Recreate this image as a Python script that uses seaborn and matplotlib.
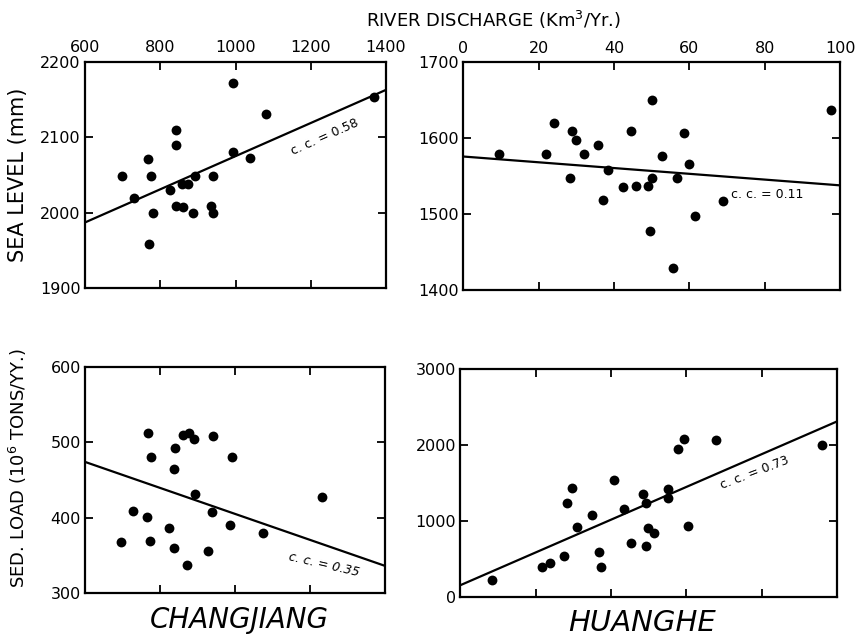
import matplotlib
matplotlib.use("Agg")
import matplotlib.pyplot as plt
import seaborn as sns
import numpy as np

# ---------------- data ----------------
# Changjiang: discharge (km3/yr) vs sea level (mm)
cj_sl_x = [697, 731, 768, 775, 781, 770, 826, 842, 842, 841, 861, 858, 873, 888,
           893, 934, 941, 941, 993, 992, 1039, 1080, 1368]
cj_sl_y = [2049, 2020, 2071, 2048, 2000, 1959, 2030, 2110, 2090, 2009, 2008, 2038,
           2038, 2000, 2049, 2009, 2049, 2000, 2172, 2080, 2072, 2131, 2153]
cj_sl_fit_x = [600, 1400]
cj_sl_fit_y = [1987, 2163]

# Huanghe: discharge vs sea level
hh_sl_x = [9.4, 22, 24, 28.7, 30, 28.4, 32, 35.6, 38.3, 37, 42.3, 44.6, 45.8, 49,
           50, 50, 49.4, 52.6, 55.6, 56.6, 58.6, 60, 61.4, 68.8, 97.7]
hh_sl_y = [1579, 1579, 1620, 1610, 1598, 1548, 1579, 1591, 1558, 1519, 1536, 1610,
           1537, 1537, 1548, 1651, 1478, 1577, 1429, 1548, 1607, 1566, 1497, 1517, 1637]
hh_sl_fit_x = [0, 100]
hh_sl_fit_y = [1576, 1538]

# Changjiang: discharge vs sediment load (10^6 tons/yr)
cj_sd_x = [767, 775, 841, 837, 861, 876, 890, 942, 993, 892, 938, 729, 765, 823,
           696, 772, 836, 871, 929, 986, 1075, 1233]
cj_sd_y = [512, 480, 492, 464, 510, 513, 504, 508, 480, 431, 407, 409, 401, 386,
           368, 369, 360, 337, 356, 390, 380, 428]
cj_sd_fit_x = [600, 1400]
cj_sd_fit_y = [474, 336]

# Huanghe: discharge vs sediment load
hh_sd_x = [8.5, 21.6, 23.7, 27.6, 28.4, 29.5, 31, 34.8, 36.8, 37.4, 40.8, 43.3,
           45.4, 48.5, 49.3, 49.3, 49.8, 51.4, 55.2, 55, 57.7, 59.3, 60.4, 67.9, 96.1]
hh_sd_y = [218, 396, 453, 542, 1236, 1431, 920, 1076, 587, 396, 1543, 1156, 711,
           1360, 1231, 671, 903, 836, 1427, 1307, 1947, 2080, 929, 2067, 2004]
hh_sd_fit_x = [0, 100]
hh_sd_fit_y = [156, 2310]

cc_labels = ["c. c. = 0.58", "c. c. = 0.11", "c. c. = 0.35", "c. c. = 0.73"]

cj_xticks = [600, 800, 1000, 1200, 1400]
hh_xticks = [0, 20, 40, 60, 80, 100]
cj_sl_yticks = [1900, 2000, 2100, 2200]
hh_sl_yticks = [1400, 1500, 1600, 1700]
cj_sd_yticks = [300, 400, 500, 600]
hh_sd_yticks = [0, 1000, 2000, 3000]

# ---------------- style ----------------
sns.set_style("ticks")
plt.rcParams["font.family"] = ["DejaVu Sans"]
plt.rcParams["text.color"] = "black"
plt.rcParams["axes.labelcolor"] = "black"
plt.rcParams["xtick.color"] = "black"
plt.rcParams["ytick.color"] = "black"

fig = plt.figure(figsize=(8.58, 6.37), dpi=100)

rects = [
    [0.0991, 0.5479, 0.3508, 0.3548],
    [0.5402, 0.5447, 0.4390, 0.3572],
    [0.0991, 0.0691, 0.3496, 0.3548],
    [0.5367, 0.0628, 0.4388, 0.3579],
]
axes = [fig.add_axes(r) for r in rects]

panels = [
    (cj_sl_x, cj_sl_y, cj_sl_fit_x, cj_sl_fit_y, cj_xticks, cj_sl_yticks, True),
    (hh_sl_x, hh_sl_y, hh_sl_fit_x, hh_sl_fit_y, hh_xticks, hh_sl_yticks, True),
    (cj_sd_x, cj_sd_y, cj_sd_fit_x, cj_sd_fit_y, cj_xticks, cj_sd_yticks, False),
    (hh_sd_x, hh_sd_y, hh_sd_fit_x, hh_sd_fit_y, hh_xticks, hh_sd_yticks, False),
]

for ax, (x, y, fx, fy, xt, yt, top) in zip(axes, panels):
    sns.scatterplot(x=x, y=y, ax=ax, color="black", s=50, edgecolor="black",
                    linewidth=0, zorder=3)
    sns.lineplot(x=fx, y=fy, ax=ax, color="black", linewidth=1.6, zorder=2)
    ax.set_xlim(xt[0], xt[-1])
    ax.set_ylim(yt[0], yt[-1])
    ax.set_xticks(xt)
    ax.set_yticks(yt)
    for sp in ax.spines.values():
        sp.set_visible(True)
        sp.set_linewidth(1.6)
        sp.set_color("black")
    ax.tick_params(axis="both", direction="in", length=6, width=1.3,
                   top=True, bottom=True, left=True, right=True,
                   labelsize=11.5, colors="black")
    ax.tick_params(axis="y", pad=3)
    ax.tick_params(axis="x", pad=5, labeltop=top, labelbottom=False)
    ax.set_xlabel("")
    ax.set_ylabel("")

# correlation annotations
axes[0].text(1238, 2101, cc_labels[0], rotation=24, ha="center", va="center",
             rotation_mode="anchor", fontsize=9)
axes[1].text(80.5, 1526, cc_labels[1], rotation=0, ha="center", va="center",
             fontsize=9)
axes[2].text(1238, 338, cc_labels[2], rotation=-13, ha="center", va="center",
             rotation_mode="anchor", fontsize=9, style="italic")
axes[3].text(78, 1630, cc_labels[3], rotation=21, ha="center", va="center",
             rotation_mode="anchor", fontsize=9)

# axis titles
fig.text(0.5746, 0.9686, "RIVER DISCHARGE (Km$^{3}$/Yr.)", ha="center",
         va="center", fontsize=13)
fig.text(0.021, 0.725, "SEA LEVEL (mm)", rotation=90, ha="center",
         va="center", fontsize=15)
fig.text(0.021, 0.265, "SED. LOAD (10$^{6}$ TONS/YY.)", rotation=90,
         ha="center", va="center", fontsize=13)
fig.text(0.2786, 0.026, "CHANGJIANG", ha="center", va="center",
         fontsize=20, style="italic")
fig.text(0.748, 0.022, "HUANGHE", ha="center", va="center",
         fontsize=21, style="italic")

fig.savefig("out.png", dpi=100)
